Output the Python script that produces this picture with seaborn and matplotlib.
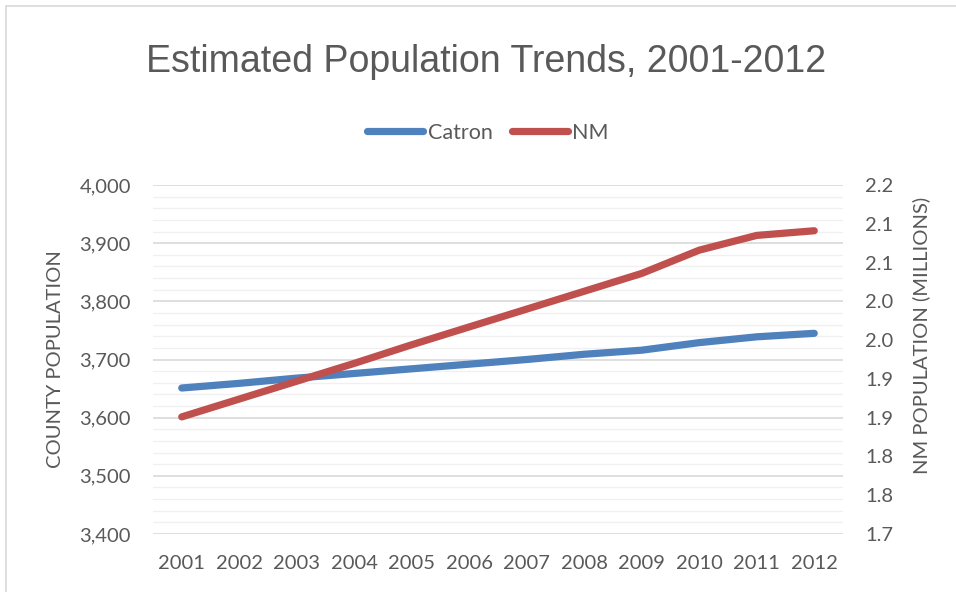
import matplotlib
matplotlib.use("Agg")
import matplotlib.pyplot as plt
from matplotlib.lines import Line2D
from matplotlib.ticker import MultipleLocator, FixedLocator
import seaborn as sns
import pandas as pd

# Population estimates by year
years = [2001, 2002, 2003, 2004, 2005, 2006, 2007, 2008, 2009, 2010, 2011, 2012]
catron = [3651, 3659, 3668, 3676, 3684, 3692, 3700, 3709, 3716, 3729, 3739, 3745]
nm_millions = [1.851, 1.874, 1.897, 1.920, 1.944, 1.967, 1.990, 2.013, 2.036, 2.066, 2.085, 2.091]

left_ticks = [3400, 3500, 3600, 3700, 3800, 3900, 4000]
right_ticks = [1.70, 1.75, 1.80, 1.85, 1.90, 1.95, 2.00, 2.05, 2.10, 2.15]
right_tick_labels = ["1.7", "1.8", "1.8", "1.9", "1.9", "2.0", "2.0", "2.1", "2.1", "2.2"]

df = pd.DataFrame({"idx": range(len(years)), "year": years,
                   "Catron": catron, "NM": nm_millions})

sns.set_theme(style="white")
plt.rcParams["font.family"] = ["Lato", "DejaVu Sans"]

BLUE = "#4F81BD"
RED = "#C0504D"
TEXT = "#595959"

fig = plt.figure(figsize=(9.56, 5.92), dpi=100)
ax = fig.add_axes([153 / 956, 1 - 534 / 592, 690 / 956, 349 / 592])
ax2 = ax.twinx()

sns.lineplot(data=df, x="idx", y="Catron", ax=ax, color=BLUE, lw=5.2,
             solid_capstyle="round", solid_joinstyle="round", zorder=5)
sns.lineplot(data=df, x="idx", y="NM", ax=ax2, color=RED, lw=5.2,
             solid_capstyle="round", solid_joinstyle="round", zorder=5)

ax.set_xlim(-0.5, len(years) - 0.5)
ax.set_ylim(left_ticks[0], left_ticks[-1])
ax2.set_ylim(right_ticks[0], right_ticks[-1])

ax.set_xticks(range(len(years)))
ax.set_xticklabels([str(y) for y in years])
ax.yaxis.set_major_locator(FixedLocator(left_ticks))
ax.set_yticklabels([f"{v:,}" for v in left_ticks])
ax.yaxis.set_minor_locator(MultipleLocator(20))
ax2.set_yticks(right_ticks)
ax2.set_yticklabels(right_tick_labels)

ax.grid(True, which="major", axis="y", color="#D9D9D9", lw=1.2, zorder=0)
ax.grid(True, which="minor", axis="y", color="#F0F0F0", lw=1.0, zorder=0)
ax.set_axisbelow(True)

for a in (ax, ax2):
    for s in a.spines.values():
        s.set_visible(False)
    a.tick_params(axis="both", which="both", length=0, colors=TEXT, labelsize=14.5)

ax.tick_params(axis="x", pad=15)
ax.tick_params(axis="y", pad=16)
ax2.tick_params(axis="y", pad=16)

ax.set_xlabel("")
ax.set_ylabel("COUNTY POPULATION", color=TEXT, fontsize=14.5)
ax.yaxis.set_label_coords(-0.129, 0.5)
ax2.set_ylabel("NM POPULATION (MILLIONS)", color=TEXT, fontsize=14.5, rotation=90)
ax2.yaxis.set_label_coords(1.100, 0.57)

fig.text(486 / 956, 1 - 62 / 592, "Estimated Population Trends, 2001-2012",
         ha="center", va="center", fontsize=27, color=TEXT,
         family=["Liberation Sans", "DejaVu Sans"])

handles = [Line2D([], [], color=BLUE, lw=5.2, solid_capstyle="round"),
           Line2D([], [], color=RED, lw=5.2, solid_capstyle="round")]
leg = fig.legend(handles, ["Catron", "NM"], loc="center",
                 bbox_to_anchor=(488 / 956, 1 - 133 / 592), ncol=2, frameon=False,
                 fontsize=15.5, handlelength=2.6, handletextpad=0.2, columnspacing=0.9)
for t in leg.get_texts():
    t.set_color(TEXT)

# light chart-area frame along the top and left edges
fig.add_artist(Line2D([5.5 / 956, 5.5 / 956], [0, 1 - 6 / 592],
                      transform=fig.transFigure, color="#D9D9D9", lw=1.2))
fig.add_artist(Line2D([5.5 / 956, 1], [1 - 6 / 592, 1 - 6 / 592],
                      transform=fig.transFigure, color="#D9D9D9", lw=1.2))

fig.savefig("out.png", dpi=100)
